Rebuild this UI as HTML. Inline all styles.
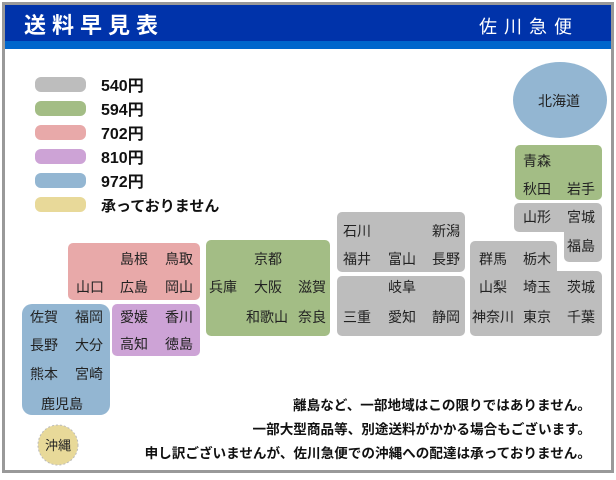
<!DOCTYPE html>
<html><head><meta charset="utf-8"><style>
html,body{margin:0;padding:0;background:#fff}
svg{display:block}
text{font-family:"Liberation Sans","Noto Sans CJK JP",sans-serif;fill:#222}
.p{font-size:14px}
.b{font-weight:bold;fill:#111}
</style></head><body>
<svg width="616" height="480" viewBox="0 0 616 480" xmlns="http://www.w3.org/2000/svg">
<rect x="3.5" y="3.5" width="609" height="468" fill="#fff" stroke="#999" stroke-width="3"/>
<rect x="5" y="5" width="606" height="36" fill="#0033aa"/>
<rect x="5" y="41" width="606" height="8" fill="#0066cc"/>
<text x="24" y="33" font-size="22" font-weight="bold" style="fill:#fff;letter-spacing:6px">送料早見表</text>
<text x="479" y="33" font-size="18" style="fill:#fff;letter-spacing:7px">佐川急便</text>

<g>
<rect x="35" y="77" width="51" height="15" rx="6" fill="#bdbdbd"/>
<rect x="35" y="101" width="51" height="15" rx="6" fill="#a3bd85"/>
<rect x="35" y="125" width="51" height="15" rx="6" fill="#e8a9a9"/>
<rect x="35" y="149" width="51" height="15" rx="6" fill="#cda3d6"/>
<rect x="35" y="173" width="51" height="15" rx="6" fill="#93b6d2"/>
<rect x="35" y="197" width="51" height="15" rx="6" fill="#e8d999"/>
<text x="101" y="91" class="b" font-size="16">540円</text>
<text x="101" y="115" class="b" font-size="16">594円</text>
<text x="101" y="139" class="b" font-size="16">702円</text>
<text x="101" y="163" class="b" font-size="16">810円</text>
<text x="101" y="187" class="b" font-size="16">972円</text>
<text x="101" y="211" class="b" font-size="15">承っておりません</text>
</g>

<ellipse cx="560" cy="100" rx="47" ry="38" fill="#93b6d2"/>
<text x="538" y="106" class="p">北海道</text>

<rect x="515" y="145" width="87" height="55" rx="5" fill="#a3bd85"/>
<path d="M519,203 H597 a5,5 0 0 1 5,5 V257 a5,5 0 0 1 -5,5 H569 a5,5 0 0 1 -5,-5 V232 H519 a5,5 0 0 1 -5,-5 V208 a5,5 0 0 1 5,-5Z" fill="#bdbdbd"/>
<rect x="337" y="212" width="128" height="60" rx="5" fill="#bdbdbd"/>
<rect x="337" y="276" width="128" height="60" rx="5" fill="#bdbdbd"/>
<path d="M475,241 H552 a5,5 0 0 1 5,5 V271 H597 a5,5 0 0 1 5,5 V331 a5,5 0 0 1 -5,5 H475 a5,5 0 0 1 -5,-5 V246 a5,5 0 0 1 5,-5Z" fill="#bdbdbd"/>
<rect x="206" y="240" width="124" height="96" rx="5" fill="#a3bd85"/>
<rect x="68" y="243" width="132" height="57" rx="5" fill="#e8a9a9"/>
<rect x="112" y="304" width="88" height="52" rx="5" fill="#cda3d6"/>
<rect x="22" y="304" width="88" height="111" rx="10" fill="#93b6d2"/>
<circle cx="58" cy="445" r="20" fill="#e8d999" stroke="#bbb" stroke-dasharray="2,2"/>

<g class="p">
<text x="523" y="166">青森</text>
<text x="523" y="194">秋田</text><text x="567" y="194">岩手</text>
<text x="523" y="222">山形</text><text x="567" y="222">宮城</text>
<text x="567" y="251">福島</text>

<text x="343" y="236">石川</text><text x="432" y="236">新潟</text>
<text x="343" y="264">福井</text><text x="388" y="264">富山</text><text x="432" y="264">長野</text>
<text x="388" y="292">岐阜</text>
<text x="343" y="322">三重</text><text x="388" y="322">愛知</text><text x="432" y="322">静岡</text>

<text x="479" y="264">群馬</text><text x="523" y="264">栃木</text>
<text x="479" y="292">山梨</text><text x="523" y="292">埼玉</text><text x="567" y="292">茨城</text>
<text x="472" y="322">神奈川</text><text x="523" y="322">東京</text><text x="567" y="322">千葉</text>

<text x="254" y="264">京都</text>
<text x="209" y="292">兵庫</text><text x="254" y="292">大阪</text><text x="298" y="292">滋賀</text>
<text x="246" y="322">和歌山</text><text x="298" y="322">奈良</text>

<text x="120" y="264">島根</text><text x="165" y="264">鳥取</text>
<text x="76" y="292">山口</text><text x="120" y="292">広島</text><text x="165" y="292">岡山</text>

<text x="120" y="322">愛媛</text><text x="165" y="322">香川</text>
<text x="120" y="349">高知</text><text x="165" y="349">徳島</text>

<text x="30" y="322">佐賀</text><text x="75" y="322">福岡</text>
<text x="30" y="350">長野</text><text x="75" y="350">大分</text>
<text x="30" y="379">熊本</text><text x="75" y="379">宮崎</text>
<text x="41" y="409">鹿児島</text>
<text x="45" y="450" font-size="13">沖縄</text>
</g>

<g font-size="13.6" font-weight="bold" text-anchor="end">
<text x="591" y="410" style="fill:#111">離島など、一部地域はこの限りではありません。</text>
<text x="591" y="434" style="fill:#111">一部大型商品等、別途送料がかかる場合もございます。</text>
<text x="591" y="458" style="fill:#111">申し訳ございませんが、佐川急便での沖縄への配達は承っておりません。</text>
</g>
</svg>
</body></html>
